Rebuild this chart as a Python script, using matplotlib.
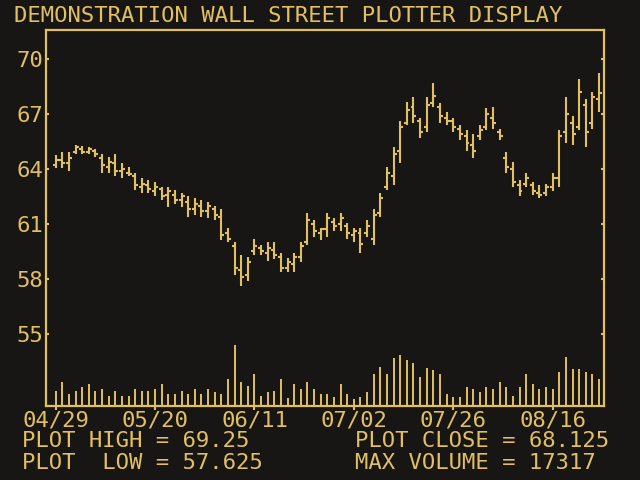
import numpy as np
import matplotlib
matplotlib.use("Agg")
import matplotlib.pyplot as plt

# colours of the amber CRT
BG = "#171614"
FG = "#e2c062"

title = "DEMONSTRATION WALL STREET PLOTTER DISPLAY"
date_ticks = [0, 15, 30, 45, 60, 75]
date_labels = ["04/29", "05/20", "06/11", "07/02", "07/26", "08/16"]
price_ticks = [55, 58, 61, 64, 67, 70]

high = [64.76, 64.9, 64.9, 65.3, 65.25, 65.2, 65.1, 64.8, 64.65, 64.8,
        64.3, 64.1, 63.8, 63.5, 63.4, 63.3, 63.0, 63.0, 62.85, 62.7,
        62.5, 62.4, 62.3, 62.2, 62.0, 61.8, 60.8, 60.0, 59.3, 59.2,
        60.2, 59.85, 60.0, 60.0, 59.4, 59.15, 59.4, 60.0, 61.6, 61.2,
        60.8, 61.6, 61.3, 61.6, 61.05, 60.8, 60.8, 61.2, 61.8, 62.7,
        64.1, 65.2, 66.6, 67.65, 67.9, 66.8, 67.9, 68.7, 67.6, 67.1,
        66.8, 66.4, 66.1, 65.9, 66.4, 67.3, 67.4, 66.2, 64.9, 64.4,
        63.4, 63.8, 63.3, 63.1, 63.2, 63.8, 66.1, 67.9, 66.9, 68.9,
        67.8, 68.2, 69.25]
low = [64.05, 64.05, 63.9, 64.8, 64.8, 64.8, 64.65, 63.8, 63.8, 63.6,
       63.5, 63.6, 62.85, 62.7, 62.7, 62.5, 62.3, 61.9, 62.1, 61.9,
       61.4, 61.5, 61.4, 61.3, 61.2, 60.1, 60.0, 58.2, 57.625, 57.9,
       59.3, 59.3, 59.0, 59.1, 58.4, 58.4, 58.4, 58.9, 59.85, 60.3,
       60.1, 60.3, 60.6, 60.6, 60.2, 60.0, 59.4, 60.3, 59.85, 61.4,
       62.85, 63.1, 64.3, 66.4, 66.5, 65.7, 66.0, 67.4, 66.5, 66.4,
       66.0, 65.6, 65.0, 64.6, 65.6, 66.1, 66.2, 65.6, 63.8, 63.0,
       62.5, 63.0, 62.6, 62.4, 62.5, 62.8, 63.0, 65.4, 65.3, 66.1,
       65.2, 66.2, 67.1]
open_ = [64.2, 64.5, 64.3, 64.9, 65.1, 64.9, 65.0, 64.6, 64.1, 64.3,
         63.9, 63.8, 63.6, 63.0, 63.1, 62.8, 62.9, 62.6, 62.6, 62.3,
         62.2, 61.8, 62.0, 61.7, 61.8, 61.4, 60.5, 59.8, 58.5, 58.2,
         59.5, 59.7, 59.4, 59.6, 59.2, 58.6, 58.8, 59.2, 60.0, 61.0,
         60.5, 60.7, 61.1, 61.0, 60.9, 60.4, 60.5, 60.5, 60.2, 61.6,
         63.0, 63.6, 65.0, 66.5, 67.4, 66.6, 66.3, 67.6, 67.4, 66.8,
         66.6, 66.2, 65.8, 65.3, 65.8, 66.3, 66.8, 66.0, 64.6, 64.0,
         63.1, 63.2, 63.1, 62.7, 62.7, 63.0, 63.5, 66.0, 66.5, 66.3,
         67.5, 66.5, 67.8]
close = [64.5, 64.3, 64.6, 65.2, 64.9, 65.1, 64.8, 64.2, 64.4, 63.9,
         64.0, 63.7, 63.1, 63.2, 62.9, 63.0, 62.5, 62.8, 62.3, 62.5,
         61.8, 62.1, 61.7, 62.0, 61.5, 60.4, 60.2, 58.6, 58.1, 58.9,
         59.8, 59.5, 59.7, 59.3, 58.6, 58.9, 59.2, 59.8, 61.2, 60.6,
         60.7, 61.3, 60.9, 61.3, 60.5, 60.6, 59.9, 60.9, 61.5, 62.4,
         63.8, 64.8, 66.3, 67.2, 66.9, 66.0, 67.5, 68.0, 66.9, 66.6,
         66.3, 65.9, 65.4, 65.0, 66.1, 67.0, 66.5, 65.8, 64.1, 63.3,
         62.8, 63.5, 62.8, 62.6, 63.0, 63.5, 65.8, 67.0, 65.9, 68.2,
         66.0, 67.9, 68.125]
volume = [4200, 6800, 3400, 4300, 5400, 6200, 4300, 4800, 2800, 4300,
          2800, 2900, 4800, 4200, 4300, 4800, 6200, 3400, 3500, 4300,
          3400, 4800, 3400, 4800, 4000, 3400, 7700, 17317, 6800, 5700,
          9100, 2800, 4000, 4300, 7700, 2300, 6200, 4800, 6800, 4800,
          3400, 3400, 2600, 6200, 3400, 2000, 2600, 4000, 9100, 11100,
          9100, 13600, 14500, 13100, 12200, 8200, 10800, 10200, 9100, 3400,
          2600, 2600, 5400, 4800, 4000, 5400, 4800, 6800, 5400, 2800,
          5400, 9100, 6200, 4800, 5400, 4800, 9700, 13900, 10500, 10500,
          9700, 9100, 7700]

x = np.arange(len(high))

plt.rcParams['font.family'] = ['DejaVu Sans Mono']
fig = plt.figure(figsize=(6.4, 4.8), dpi=100, facecolor=BG)
ax = fig.add_axes([46 / 640, 1 - 406 / 480, 558 / 640, 376 / 480])
ax.set_facecolor(BG)

# volume on its own scale, sharing the frame
vax = ax.twinx()
vax.vlines(x, 0, volume, color=FG, lw=1.4)
vax.set_ylim(0, 17317 * 376 / 61)
vax.set_yticks([])
for s in vax.spines.values():
    s.set_visible(False)

# price bars: high-low line, open tick left, close tick right
ax.vlines(x, low, high, color=FG, lw=1.5)
ax.hlines(open_, x - 0.45, x, color=FG, lw=1.5)
ax.hlines(close, x, x + 0.45, color=FG, lw=1.5)

ax.set_xlim(-1.46, 82.75)
ax.set_ylim(51.07, 71.58)

for s in ax.spines.values():
    s.set_color(FG)
    s.set_linewidth(1.6)

ax.set_yticks(price_ticks)
ax.set_yticklabels([str(p) for p in price_ticks])
ax.tick_params(axis='y', which='both', direction='in', length=2, width=1.5,
               colors=FG, labelsize=16, pad=2, right=True)
ax.set_xticks(date_ticks)
ax.set_xticklabels(date_labels)
ax.tick_params(axis='x', direction='out', length=3, width=1.5,
               colors=FG, labelsize=16, pad=0)

fig.text(14 / 640, 1 - 16 / 480, title, color=FG, fontsize=16,
         va='center', ha='left')
fig.text(22 / 640, 1 - 441 / 480, "PLOT HIGH = 69.25", color=FG,
         fontsize=16, va='center', ha='left')
fig.text(22 / 640, 1 - 463 / 480, "PLOT  LOW = 57.625", color=FG,
         fontsize=16, va='center', ha='left')
fig.text(355 / 640, 1 - 441 / 480, "PLOT CLOSE = 68.125", color=FG,
         fontsize=16, va='center', ha='left')
fig.text(355 / 640, 1 - 463 / 480, "MAX VOLUME = 17317", color=FG,
         fontsize=16, va='center', ha='left')

fig.savefig("out.png", dpi=100, facecolor=BG)
